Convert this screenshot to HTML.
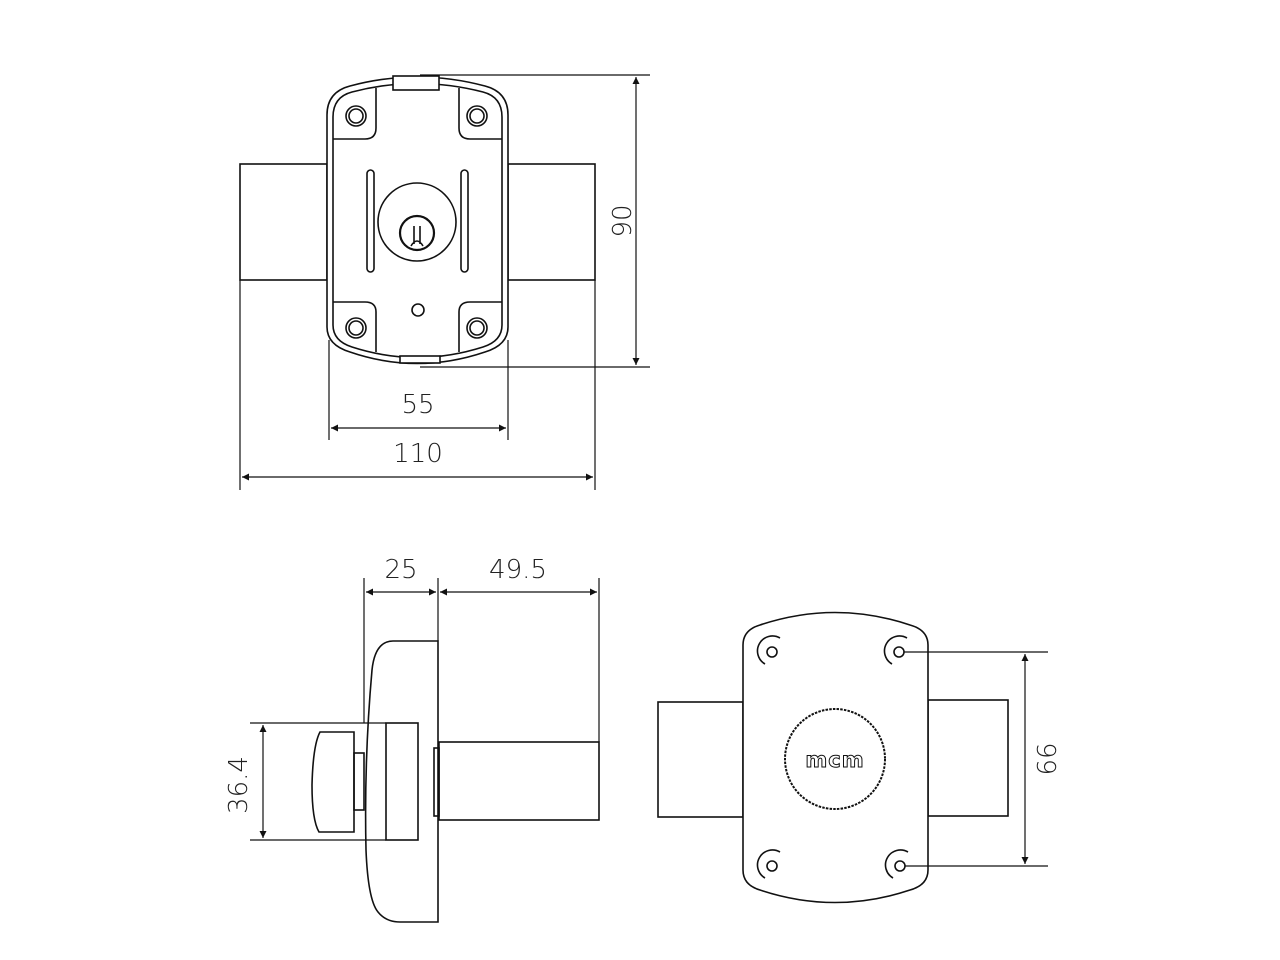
<!DOCTYPE html>
<html><head><meta charset="utf-8"><style>
html,body{margin:0;padding:0;background:#fff}
svg{display:block}
text{font-family:"DejaVu Sans","Liberation Sans",sans-serif;font-weight:200;fill:#222}
</style></head><body>
<svg width="1280" height="960" viewBox="0 0 1280 960" xmlns="http://www.w3.org/2000/svg">
<defs>
<marker id="a" viewBox="0 0 10 10" refX="10" refY="5" markerWidth="14" markerHeight="7" markerUnits="userSpaceOnUse" orient="auto-start-reverse"><path d="M0,0 L10,5 L0,10 z" fill="#111"/></marker>
</defs>
<g fill="none" stroke="#111" stroke-width="1.6">
<rect x="240" y="164" width="87" height="116"/>
<rect x="508" y="164" width="87" height="116"/>
<path d="M327,115 Q327,92 350,86 Q417,68 485,86 Q508,92 508,115 L508,327 Q508,345 485,352 Q417,375 350,352 Q327,345 327,327 Z" fill="#fff"/>
<path d="M333,117 Q333,97 352,92 Q417,75 483,92 Q502,97 502,117 L502,325 Q502,341 483,347 Q417,368 352,347 Q333,341 333,325 Z"/>
<rect x="393" y="76" width="46" height="14" fill="#fff"/>
<rect x="400" y="356" width="40" height="7" fill="#fff"/>
<path d="M376,88 L376,128 Q376,139 365,139 L333,139"/>
<path d="M459,88 L459,128 Q459,139 470,139 L502,139"/>
<path d="M376,352 L376,312 Q376,302 365,302 L333,302"/>
<path d="M459,352 L459,312 Q459,302 470,302 L502,302"/>
<circle cx="356" cy="116" r="7"/><circle cx="356" cy="116" r="10"/>
<circle cx="477" cy="116" r="7"/><circle cx="477" cy="116" r="10"/>
<circle cx="356" cy="328" r="7"/><circle cx="356" cy="328" r="10"/>
<circle cx="477" cy="328" r="7"/><circle cx="477" cy="328" r="10"/>
<rect x="367" y="170" width="7" height="102" rx="3.5"/>
<rect x="461" y="170" width="7" height="102" rx="3.5"/>
<circle cx="417" cy="222" r="39"/>
<circle cx="417" cy="233" r="17" stroke-width="2.2"/>
<path d="M414,226 L414,244 M420,226 L420,244 M411,246 Q417,236 423,246"/>
<circle cx="418" cy="310" r="6"/>
<line x1="240" y1="280" x2="240" y2="490" stroke-width="1.2"/>
<line x1="595" y1="280" x2="595" y2="490" stroke-width="1.2"/>
<line x1="329" y1="340" x2="329" y2="440" stroke-width="1.2"/>
<line x1="508" y1="340" x2="508" y2="440" stroke-width="1.2"/>
<line x1="331" y1="428" x2="506" y2="428" stroke-width="1.2" marker-start="url(#a)" marker-end="url(#a)"/>
<line x1="242" y1="477" x2="593" y2="477" stroke-width="1.2" marker-start="url(#a)" marker-end="url(#a)"/>
<line x1="420" y1="75" x2="650" y2="75" stroke-width="1.2"/>
<line x1="420" y1="367" x2="650" y2="367" stroke-width="1.2"/>
<line x1="636" y1="77" x2="636" y2="365" stroke-width="1.2" marker-start="url(#a)" marker-end="url(#a)"/>

<line x1="364" y1="578" x2="364" y2="723" stroke-width="1.2"/>
<line x1="438" y1="578" x2="438" y2="641" stroke-width="1.2"/>
<line x1="599" y1="578" x2="599" y2="742" stroke-width="1.2"/>
<line x1="366" y1="592" x2="436" y2="592" stroke-width="1.2" marker-start="url(#a)" marker-end="url(#a)"/>
<line x1="440" y1="592" x2="597" y2="592" stroke-width="1.2" marker-start="url(#a)" marker-end="url(#a)"/>
<path d="M438,641 L393,641 Q375,641 372,670 Q364,760 366,850 Q368,900 378,912 Q386,922 400,922 L438,922 Z"/>
<rect x="386" y="723" width="32" height="117"/>
<line x1="250" y1="723" x2="386" y2="723" stroke-width="1.2"/>
<line x1="250" y1="840" x2="386" y2="840" stroke-width="1.2"/>
<line x1="263" y1="725" x2="263" y2="838" stroke-width="1.2" marker-start="url(#a)" marker-end="url(#a)"/>
<path d="M320,732 L354,732 L354,832 L319,832 Q312,820 312,785 Q313,745 320,732 Z"/>
<rect x="354" y="753" width="10" height="57"/>
<rect x="434" y="748" width="5" height="68"/>
<rect x="439" y="742" width="160" height="78"/>

<rect x="658" y="702" width="85" height="115"/>
<rect x="928" y="700" width="80" height="116"/>
<path d="M743,645 Q743,630 760,625 Q835,600 910,625 Q928,630 928,645 L928,870 Q928,885 910,890 Q835,915 760,890 Q743,885 743,870 Z" fill="#fff"/>
<circle cx="835" cy="759" r="50" stroke-width="2" stroke-dasharray="2.5 1.2"/>
<circle cx="772" cy="652" r="5"/><path d="M765,664 A14,14 0 0 1 780,638" />
<circle cx="899" cy="652" r="5"/><path d="M892,664 A14,14 0 0 1 907,638" />
<circle cx="772" cy="866" r="5"/><path d="M765,878 A14,14 0 0 1 780,852" />
<circle cx="900" cy="866" r="5"/><path d="M893,878 A14,14 0 0 1 908,852" />
<line x1="904" y1="652" x2="1048" y2="652" stroke-width="1.2"/>
<line x1="905" y1="866" x2="1048" y2="866" stroke-width="1.2"/>
<line x1="1025" y1="654" x2="1025" y2="864" stroke-width="1.2" marker-start="url(#a)" marker-end="url(#a)"/>
</g>
<text x="835" y="767" font-size="21" text-anchor="middle" style="font-weight:bold;letter-spacing:1px;fill:#fff" stroke="#111" stroke-width="1">mcm</text>
<text x="418" y="413" font-size="26" text-anchor="middle">55</text>
<text x="418" y="462" font-size="26" text-anchor="middle">110</text>
<text transform="translate(631,221) rotate(-90)" font-size="26" text-anchor="middle">90</text>
<text x="401" y="578" font-size="26" text-anchor="middle">25</text>
<text x="518" y="578" font-size="26" text-anchor="middle">49.5</text>
<text transform="translate(247,785) rotate(-90)" font-size="26" text-anchor="middle">36.4</text>
<text transform="translate(1056,759) rotate(-90)" font-size="26" text-anchor="middle">66</text>
</svg>
</body></html>
